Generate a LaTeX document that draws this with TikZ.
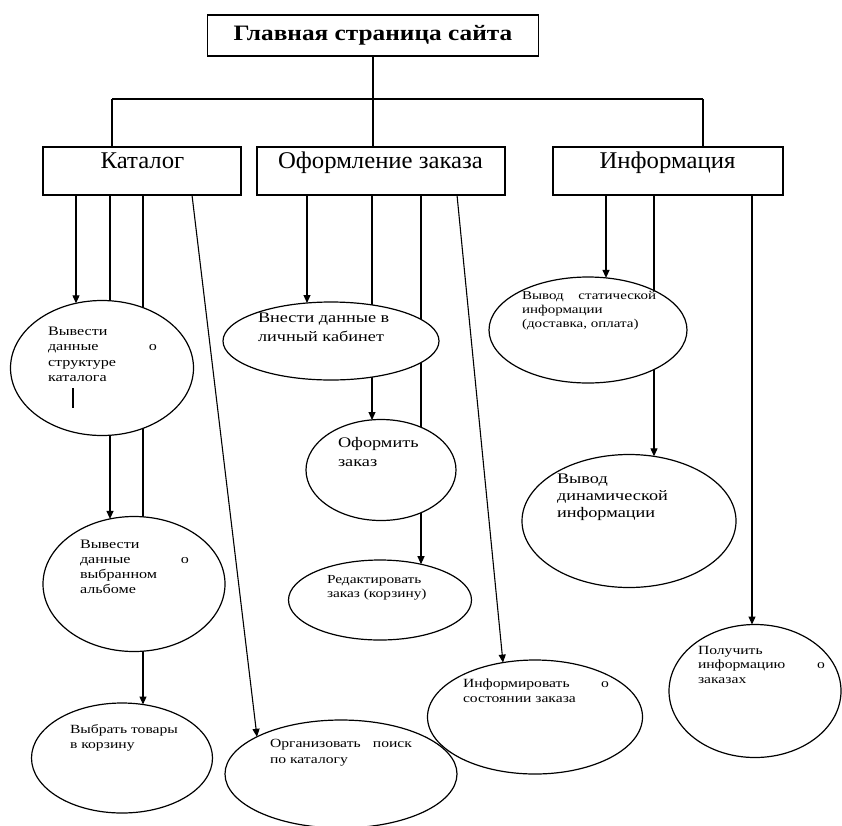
\documentclass[tikz,border=0pt]{standalone}
\usepackage{fontspec}
\setmainfont{Liberation Serif}[FakeStretch=1.25]
\newfontfamily\boxfont{Liberation Serif}[FakeStretch=1.03]
\newfontfamily\titlefont{Liberation Serif}[FakeStretch=1.15]
\usetikzlibrary{arrows.meta,shapes.geometric}
\pgfdeclarelayer{bg}
\pgfsetlayers{bg,main}
\tikzset{
 boxnode/.style={draw, line width=1.3pt, rectangle, inner sep=0pt, outer sep=0pt, anchor=north west},
 ell/.style={draw, ellipse, line width=1.2pt, fill=white, inner sep=0pt, outer sep=0pt},
 conn/.style={line width=1.1pt},
 arr/.style={conn, -{Triangle[length=8pt,width=7pt]}},
 lbl/.style={inner sep=0pt, outer sep=0pt, anchor=base west},
 boxlbl/.style={inner sep=0pt, anchor=base, font=\boxfont\fontsize{24}{26}\selectfont},
}
\newcommand{\etext}[4]{\parbox[t]{#1}{\fontsize{#2}{#3}\selectfont #4}}
\begin{document}
\begin{tikzpicture}[x=1pt,y=-1pt]
\useasboundingbox (0,0) rectangle (842,825);
% top level
\node[draw, line width=1.3pt, minimum width=331pt, minimum height=41pt, inner sep=0pt, outer sep=0pt, font=\titlefont\bfseries\fontsize{22}{24}\selectfont] (top) at (373,35.5) {Главная страница сайта};
\node[boxnode, minimum width=198pt, minimum height=48pt] (kat) at (43,147) {};
\node[boxnode, minimum width=248pt, minimum height=48pt] (ofo) at (257,147) {};
\node[boxnode, minimum width=230pt, minimum height=48pt] (inf) at (553,147) {};
\node[boxlbl] (katl) at (142.5,168) {Каталог};
\node[boxlbl] (ofol) at (380.5,168) {Оформление заказа};
\node[boxlbl] (infl) at (667.5,168) {Информация};
% ellipses
\node[ell, minimum width=183pt, minimum height=135pt] (e1) at (102,368) {};
\node[ell, minimum width=182pt, minimum height=135pt] (e2) at (134,584) {};
\node[ell, minimum width=181pt, minimum height=110pt] (e3) at (122,758) {};
\node[ell, minimum width=232pt, minimum height=108pt] (e4) at (341,774) {};
\node[ell, minimum width=216pt, minimum height=78pt] (e5) at (331,341) {};
\node[ell, minimum width=150pt, minimum height=101pt] (e6) at (381,470) {};
\node[ell, minimum width=183pt, minimum height=80pt] (e7) at (380,600) {};
\node[ell, minimum width=215pt, minimum height=114pt] (e8) at (535,717) {};
\node[ell, minimum width=198pt, minimum height=106pt] (e9) at (588,330) {};
\node[ell, minimum width=214pt, minimum height=133pt] (e10) at (629,521) {};
\node[ell, minimum width=172pt, minimum height=133pt] (e11) at (755,691) {};
% ellipse texts
\node[lbl] (e1t) at (48,335) {\etext{109pt}{12.9}{15.5}{Вывести\\данные\hfill о\\структуре\\каталога}};
\node[lbl] (e2t) at (80,548) {\etext{109pt}{12.9}{15}{Вывести\\данные\hfill о\\выбранном\\альбоме}};
\node[lbl] (e3t) at (70,733) {\etext{118pt}{12.5}{15}{Выбрать товары\\в корзину}};
\node[lbl] (e4t) at (270,747) {\etext{142pt}{12.5}{16}{Организовать\hfill поиск\\по каталогу}};
\node[lbl] (e5t) at (258,322) {\etext{150pt}{14.6}{19}{Внести данные в\\личный кабинет}};
\node[lbl] (e6t) at (338,447) {\etext{100pt}{14.6}{19}{Оформить\\заказ}};
\node[lbl] (e7t) at (327,583) {\etext{120pt}{12.3}{14.5}{Редактировать\\заказ (корзину)}};
\node[lbl] (e8t) at (463,687) {\etext{146pt}{12.5}{15}{Информировать\hfill о\\состоянии заказа}};
\node[lbl] (e9t) at (522,299) {\etext{134pt}{12}{14}{Вывод\hfill статической\\информации\\(доставка, оплата)}};
\node[lbl] (e10t) at (557,483) {\etext{120pt}{14.6}{17}{Вывод\\динамической\\информации}};
\node[lbl] (e11t) at (698,654) {\etext{127pt}{12.5}{14.5}{Получить\\информацию\hfill о\\заказах}};
% stray cursor mark
\draw[line width=2.6pt] (73,388) -- (73,408);
% connector end points
\coordinate (hl) at (112,99);
\coordinate (hr) at (703,99);
\coordinate (a1) at (76,303.3);
\coordinate (a2) at (110,518.9);
\coordinate (a3) at (143,704.5);
\coordinate (s4) at (192,195);
\coordinate (a4) at (257,736.8);
\coordinate (b1) at (307,303);
\coordinate (b2) at (372,420);
\coordinate (b3) at (421,564.2);
\coordinate (s8) at (457,195);
\coordinate (b4) at (503,662.6);
\coordinate (c1) at (606,277.9);
\coordinate (c2) at (654,456.3);
\coordinate (c3) at (752,624.5);
\begin{pgfonlayer}{bg}
\draw[conn] (top.south) -- (top.south |- ofo.north);
\draw[conn] (hl) -- (hr);
\draw[conn] (hl) -- (hl |- kat.north);
\draw[conn] (hr) -- (hr |- inf.north);
\draw[arr] (kat.south -| a1) -- (a1);
\draw[arr] (kat.south -| a2) -- (a2);
\draw[arr] (kat.south -| a3) -- (a3);
\draw[arr] (kat.south -| s4) -- (a4);
\draw[arr] (ofo.south -| b1) -- (b1);
\draw[arr] (ofo.south -| b2) -- (b2);
\draw[arr] (ofo.south -| b3) -- (b3);
\draw[arr] (ofo.south -| s8) -- (b4);
\draw[arr] (inf.south -| c1) -- (c1);
\draw[arr] (inf.south -| c2) -- (c2);
\draw[arr] (inf.south -| c3) -- (c3);
\end{pgfonlayer}
\end{tikzpicture}
\end{document}
